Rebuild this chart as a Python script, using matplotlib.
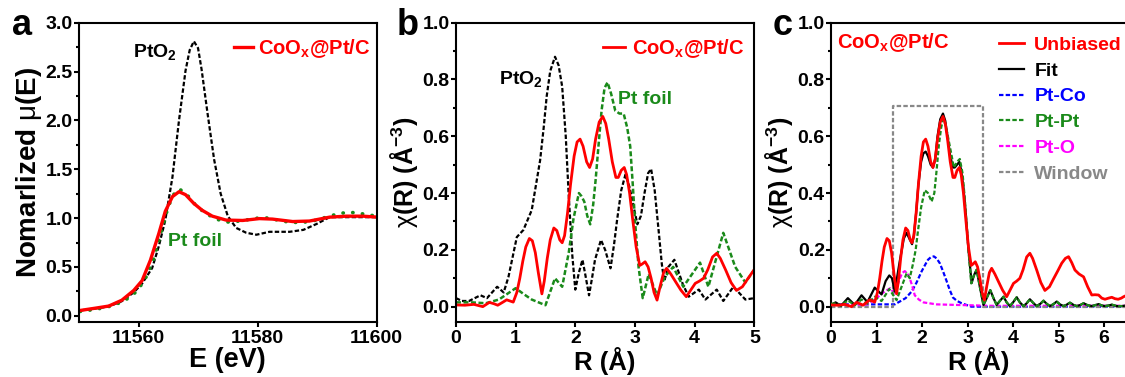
import numpy as np
import matplotlib
matplotlib.use('Agg')
from matplotlib import pyplot as plt
from matplotlib.ticker import MultipleLocator

plt.rcParams['font.family'] = ['Liberation Sans', 'DejaVu Sans']
plt.rcParams['font.weight'] = 'bold'
plt.rcParams['mathtext.fontset'] = 'custom'
plt.rcParams['mathtext.rm'] = 'Liberation Sans:weight=normal'
plt.rcParams['mathtext.it'] = 'Liberation Sans:italic'
plt.rcParams['mathtext.bf'] = 'Liberation Sans:bold'
plt.rcParams['axes.linewidth'] = 1.5
plt.rcParams['lines.solid_joinstyle'] = 'round'

# ---- panel a: XANES ----
E_cat = [11550.2, 11552.7, 11555.0, 11557.2, 11559.2, 11560.6, 11562.0, 11563.4, 11564.5,
         11565.7, 11566.8, 11567.9, 11569.3, 11570.7, 11572.4, 11574.7, 11577.5, 11580.3,
         11582.5, 11585.9, 11588.7, 11592.1, 11594.9, 11597.7, 11600.2]
mu_cat = [0.055, 0.078, 0.10, 0.16, 0.26, 0.36, 0.57, 0.84, 1.07,
          1.22, 1.27, 1.24, 1.15, 1.08, 1.02, 0.98, 0.976, 0.995,
          0.99, 0.965, 0.97, 1.01, 1.02, 1.02, 1.01]

E_pto2 = [11550.2, 11552.7, 11555.0, 11557.2, 11559.2, 11560.6, 11562.3, 11563.4, 11564.5,
          11565.7, 11566.8, 11567.9, 11568.6, 11569.3, 11570.0, 11570.6, 11571.6, 11572.7,
          11573.8, 11575.0, 11576.4, 11578.1, 11579.8, 11582.0, 11585.4, 11587.7, 11589.9,
          11592.1, 11594.4, 11597.7, 11600.2]
mu_pto2 = [0.055, 0.075, 0.095, 0.15, 0.24, 0.33, 0.49, 0.71, 0.98,
           1.42, 2.00, 2.51, 2.72, 2.81, 2.74, 2.52, 2.07, 1.60,
           1.25, 1.02, 0.90, 0.85, 0.83, 0.86, 0.86, 0.88, 0.94,
           1.01, 1.01, 1.01, 1.01]

E_foil = [11550.2, 11552.0, 11554.0, 11556.0, 11558.0, 11559.5, 11561.0, 11562.5, 11564.0,
          11565.0, 11566.0, 11566.8, 11568.0, 11569.5, 11571.0, 11573.0, 11575.0, 11577.0,
          11579.0, 11580.5, 11582.0, 11584.0, 11586.0, 11588.0, 11590.0, 11592.0, 11594.0,
          11595.5, 11597.0, 11599.0, 11600.0]
mu_foil = [0.045, 0.06, 0.08, 0.11, 0.17, 0.24, 0.36, 0.57, 0.90,
           1.12, 1.25, 1.30, 1.25, 1.14, 1.06, 0.99, 0.96, 0.97,
           0.99, 1.005, 1.0, 0.97, 0.955, 0.96, 0.98, 1.02, 1.05,
           1.06, 1.05, 1.03, 1.02]

# ---- panel b/c: FT-EXAFS ----
R_cat = [0.0, 0.15, 0.30, 0.45, 0.56, 0.64, 0.70, 0.78, 0.85, 0.96, 1.02, 1.07, 1.12, 1.17,
         1.23, 1.28, 1.33, 1.38, 1.44, 1.48, 1.53, 1.58, 1.64, 1.69, 1.74, 1.78, 1.82, 1.87,
         1.92, 1.98, 2.03, 2.08, 2.13, 2.19, 2.24, 2.29, 2.34, 2.40, 2.46, 2.51, 2.56, 2.62,
         2.68, 2.72, 2.77, 2.82, 2.86, 2.91, 2.96, 3.02, 3.08, 3.12, 3.17, 3.22, 3.27, 3.32,
         3.37, 3.42, 3.48, 3.53, 3.60, 3.68, 3.77, 3.86, 3.94, 4.01, 4.08, 4.15, 4.22, 4.30,
         4.37, 4.43, 4.52, 4.61, 4.70, 4.80, 4.89, 4.98, 5.07, 5.15, 5.22, 5.29, 5.36, 5.45,
         5.55, 5.64, 5.73, 5.80, 5.88, 5.95, 6.02, 6.10, 6.17, 6.24, 6.31, 6.38, 6.43, 6.5]
chi_cat = [0.006, 0.005, 0.008, 0.0, 0.015, 0.01, 0.005, 0.015, 0.024, 0.016, 0.05, 0.10, 0.16, 0.21,
           0.24, 0.232, 0.19, 0.12, 0.045, 0.09, 0.17, 0.235, 0.277, 0.268, 0.235, 0.225, 0.25, 0.33,
           0.43, 0.53, 0.58, 0.59, 0.565, 0.51, 0.49, 0.52, 0.59, 0.65, 0.67, 0.645, 0.59, 0.51,
           0.455, 0.455, 0.48, 0.49, 0.465, 0.40, 0.31, 0.21, 0.145, 0.15, 0.158, 0.14, 0.10, 0.05,
           0.023, 0.07, 0.12, 0.135, 0.115, 0.088, 0.058, 0.035, 0.06, 0.082, 0.09, 0.10, 0.13, 0.175,
           0.188, 0.17, 0.129, 0.085, 0.057, 0.07, 0.098, 0.125, 0.153, 0.17, 0.176, 0.155, 0.129, 0.115,
           0.105, 0.07, 0.041, 0.042, 0.041, 0.03, 0.026, 0.03, 0.033, 0.028, 0.026, 0.03, 0.035, 0.04]

R_pto2 = [0.0, 0.10, 0.22, 0.41, 0.52, 0.69, 0.80, 0.88, 1.02, 1.13, 1.27, 1.41, 1.47, 1.52,
          1.58, 1.66, 1.72, 1.78, 1.84, 1.89, 1.95, 2.00, 2.06, 2.12, 2.17, 2.23, 2.28, 2.33,
          2.43, 2.50, 2.59, 2.65, 2.70, 2.77, 2.84, 2.91, 2.98, 3.04, 3.10, 3.16, 3.22, 3.27,
          3.33, 3.40, 3.45, 3.49, 3.56, 3.66, 3.80, 3.90, 4.07, 4.18, 4.37, 4.48, 4.65, 4.85, 5.0]
chi_pto2 = [0.03, 0.02, 0.02, 0.04, 0.03, 0.07, 0.05, 0.105, 0.245, 0.27, 0.34, 0.515, 0.63, 0.74,
            0.83, 0.88, 0.85, 0.775, 0.60, 0.39, 0.18, 0.06, 0.12, 0.165, 0.11, 0.04, 0.10, 0.165,
            0.235, 0.20, 0.135, 0.22, 0.305, 0.41, 0.465, 0.42, 0.35, 0.29, 0.32, 0.40, 0.47, 0.485,
            0.41, 0.26, 0.15, 0.09, 0.14, 0.165, 0.08, 0.035, 0.06, 0.025, 0.06, 0.02, 0.07, 0.025, 0.03]

R_foil = [0.0, 0.27, 0.50, 0.72, 1.00, 1.13, 1.27, 1.50, 1.66, 1.78, 1.89, 1.97, 2.06, 2.10,
          2.15, 2.20, 2.25, 2.30, 2.34, 2.39, 2.44, 2.49, 2.54, 2.60, 2.67, 2.74, 2.81, 2.87,
          2.92, 2.96, 3.00, 3.06, 3.13, 3.23, 3.37, 3.50, 3.64, 3.81, 4.09, 4.23, 4.48, 4.68,
          4.85, 5.0]
chi_foil = [0.015, 0.015, 0.012, 0.025, 0.065, 0.045, 0.025, 0.005, 0.10, 0.07, 0.19, 0.31, 0.40, 0.39,
            0.37, 0.32, 0.29, 0.36, 0.445, 0.57, 0.69, 0.77, 0.79, 0.75, 0.69, 0.68, 0.68, 0.63,
            0.565, 0.44, 0.305, 0.14, 0.03, 0.115, 0.04, 0.105, 0.14, 0.07, 0.155, 0.07, 0.26, 0.14,
            0.085, 0.13]

# ---- panel c: fit ----
R_fit = [0.0, 0.10, 0.22, 0.37, 0.52, 0.67, 0.80, 0.96, 1.11, 1.20, 1.28, 1.34, 1.40, 1.51,
         1.60, 1.66, 1.72, 1.78, 1.82, 1.87, 1.92, 1.98, 2.03, 2.08, 2.13, 2.19, 2.24, 2.29,
         2.34, 2.40, 2.46, 2.51, 2.56, 2.62, 2.68, 2.72, 2.77, 2.82, 2.86, 2.91, 2.96, 3.02,
         3.09, 3.14, 3.20, 3.27, 3.35, 3.42, 3.50, 3.57, 3.64, 3.71, 3.79, 3.86, 3.93, 4.00,
         4.08, 4.15, 4.23, 4.30, 4.37, 4.45, 4.52, 4.60, 4.67, 4.74, 4.81, 4.89, 4.96, 5.03,
         5.11, 5.18, 5.25, 5.33, 5.40, 5.48, 5.55, 5.64, 5.73, 5.80, 5.88, 5.95, 6.02, 6.10,
         6.17, 6.28, 6.39, 6.5]
chi_fit = [0.006, 0.015, 0.003, 0.03, 0.006, 0.04, 0.016, 0.067, 0.043, 0.09, 0.11, 0.10, 0.053, 0.16,
           0.24, 0.26, 0.24, 0.22, 0.25, 0.33, 0.43, 0.51, 0.54, 0.546, 0.53, 0.50, 0.49, 0.52,
           0.60, 0.66, 0.68, 0.655, 0.60, 0.53, 0.49, 0.49, 0.50, 0.51, 0.48, 0.42, 0.33, 0.20,
           0.083, 0.11, 0.13, 0.07, 0.006, 0.03, 0.058, 0.03, 0.006, 0.02, 0.035, 0.015, 0.002, 0.015,
           0.033, 0.015, 0.002, 0.012, 0.026, 0.012, 0.002, 0.01, 0.021, 0.01, 0.002, 0.009, 0.018, 0.008,
           0.002, 0.007, 0.014, 0.006, 0.002, 0.006, 0.012, 0.005, 0.002, 0.005, 0.009, 0.004, 0.002, 0.004,
           0.007, 0.002, 0.002, 0.004]

R_ptpt = [0.0, 0.10, 0.22, 0.37, 0.52, 0.67, 0.80, 0.96, 1.11, 1.28, 1.44, 1.55, 1.66, 1.73,
          1.80, 1.86, 1.91, 1.98, 2.06, 2.13, 2.21, 2.27, 2.32, 2.37, 2.42, 2.46, 2.52, 2.58,
          2.64, 2.70, 2.77, 2.83, 2.89, 2.94, 3.02, 3.08, 3.14, 3.20, 3.27, 3.35, 3.42, 3.50,
          3.57, 3.64, 3.71, 3.79, 3.86, 3.93, 4.00, 4.08, 4.15, 4.23, 4.30, 4.37, 4.45, 4.52,
          4.60, 4.67, 4.74, 4.81, 4.89, 4.96, 5.03, 5.11, 5.18, 5.25, 5.33, 5.40, 5.48, 5.55,
          5.64, 5.73, 5.80, 5.88, 5.95, 6.02, 6.10, 6.17, 6.28, 6.39, 6.5]
chi_ptpt = [0.01, 0.012, 0.004, 0.022, 0.005, 0.025, 0.01, 0.035, 0.02, 0.062, 0.023, 0.07, 0.117, 0.10,
            0.15, 0.20, 0.266, 0.35, 0.41, 0.40, 0.37, 0.40, 0.48, 0.57, 0.63, 0.66, 0.64, 0.59,
            0.54, 0.49, 0.51, 0.52, 0.47, 0.38, 0.20, 0.082, 0.11, 0.13, 0.07, 0.006, 0.03, 0.058,
            0.03, 0.006, 0.02, 0.035, 0.015, 0.002, 0.015, 0.033, 0.015, 0.002, 0.012, 0.026, 0.012, 0.002,
            0.01, 0.021, 0.01, 0.002, 0.009, 0.018, 0.008, 0.002, 0.007, 0.014, 0.006, 0.002, 0.006, 0.012,
            0.005, 0.002, 0.005, 0.009, 0.004, 0.002, 0.004, 0.007, 0.002, 0.002, 0.004]

R_ptco = [0.0, 0.5, 1.0, 1.40, 1.51, 1.64, 1.77, 1.88, 1.99, 2.07, 2.13, 2.20, 2.26, 2.32,
          2.39, 2.46, 2.54, 2.61, 2.68, 2.77, 2.87, 3.08, 3.5, 4.5, 5.5, 6.5]
chi_ptco = [0.008, 0.008, 0.008, 0.008, 0.018, 0.03, 0.053, 0.085, 0.124, 0.148, 0.165, 0.175, 0.177, 0.17,
            0.153, 0.125, 0.09, 0.058, 0.032, 0.02, 0.012, 0.0, 0.0, 0.0, 0.0, 0.0]

R_pto = [0.0, 0.4, 0.8, 1.0, 1.15, 1.30, 1.39, 1.45, 1.50, 1.56, 1.62, 1.68, 1.73, 1.79,
         1.84, 1.93, 2.03, 2.32, 2.76, 3.5, 4.5, 5.5, 6.5]
chi_pto = [0.006, 0.006, 0.008, 0.03, 0.05, 0.065, 0.047, 0.07, 0.094, 0.118, 0.125, 0.118, 0.10, 0.07,
           0.04, 0.025, 0.015, 0.008, 0.006, 0.003, 0.003, 0.003, 0.003]

R_win = [0.0, 1.36, 1.36, 3.34, 3.34, 6.5]
win = [0.0, 0.0, 0.705, 0.705, 0.0, 0.0]

red = '#ff0000'
green = '#1a8a1a'
dash = (0, (2, 1))

fig = plt.figure(figsize=(11.25, 3.77), dpi=100)
ax_a = fig.add_axes([0.0702, 0.1467, 0.2646, 0.7931])
ax_b = fig.add_axes([0.4053, 0.1467, 0.2652, 0.7931])
ax_c = fig.add_axes([0.7387, 0.1467, 0.2629, 0.7931])

def style(ax):
	ax.tick_params(which='both', direction='out', width=1.5, labelsize=14, pad=1)
	ax.tick_params(which='major', length=3.5)
	ax.tick_params(which='minor', length=2)
	ax.tick_params(axis='x', pad=2.5)
	for lab in ax.get_xticklabels() + ax.get_yticklabels():
		lab.set_fontweight('bold')

# a
ax_a.plot(E_pto2, mu_pto2, color='k', lw=1.6, linestyle=dash)
ax_a.plot(E_foil, mu_foil, color=green, lw=2.6, linestyle=(0, (0.1, 2.6)), dash_capstyle='round')
ax_a.plot(E_cat, mu_cat, color=red, lw=2.4, label=r'CoO$_{\mathbf{x}}$@Pt/C')
ax_a.set_xlim(11550, 11600)
ax_a.set_ylim(-0.06, 3.0)
ax_a.set_xticks([11560, 11580, 11600])
ax_a.yaxis.set_major_locator(MultipleLocator(0.5))
ax_a.yaxis.set_minor_locator(MultipleLocator(0.25))
ax_a.set_xlabel('E (eV)', fontsize=19.5, fontweight='bold', labelpad=0)
ax_a.set_ylabel(r'Nomarlized $\mathrm{\mu}$(E)', fontsize=20, fontweight='bold', labelpad=1)
ax_a.text(11559.1, 2.70, r'PtO$_{\mathbf{2}}$', fontsize=14, color='k', va='center')
ax_a.text(11565.0, 0.757, 'Pt foil', fontsize=14, color=green, va='center')
ax_a.legend(loc='upper left', bbox_to_anchor=(0.473, 1.0), frameon=False, fontsize=14.5,
            handlelength=0.95, handletextpad=0.25, labelcolor='linecolor', borderaxespad=0.3)
style(ax_a)

# b
ax_b.plot(R_pto2, chi_pto2, color='k', lw=1.6, linestyle=dash)
ax_b.plot(R_foil, chi_foil, color=green, lw=1.8, linestyle=dash)
ax_b.plot(R_cat, chi_cat, color=red, lw=2.0, label=r'CoO$_{\mathbf{x}}$@Pt/C')
ax_b.set_xlim(0, 5)
ax_b.set_ylim(-0.053, 1.0)
ax_b.xaxis.set_major_locator(MultipleLocator(1))
ax_b.yaxis.set_major_locator(MultipleLocator(0.2))
ax_b.yaxis.set_minor_locator(MultipleLocator(0.1))
ax_b.set_xlabel('R (Å)', fontsize=18.5, fontweight='bold', labelpad=0)
ax_b.set_ylabel(r'$\mathrm{\chi}$(R) (Å$^{\mathbf{-3}}$)', fontsize=18, fontweight='bold', labelpad=2)
ax_b.text(0.72, 0.80, r'PtO$_{\mathbf{2}}$', fontsize=14, color='k', va='center')
ax_b.text(2.71, 0.73, 'Pt foil', fontsize=14, color=green, va='center')
ax_b.legend(loc='upper left', bbox_to_anchor=(0.446, 1.0), frameon=False, fontsize=14.5,
            handlelength=1.1, handletextpad=0.35, labelcolor='linecolor', borderaxespad=0.3)
style(ax_b)

# c
ax_c.plot(R_cat, chi_cat, color=red, lw=2.0, label='Unbiased', zorder=5)
ax_c.plot(R_fit, chi_fit, color='k', lw=1.6, label='Fit', zorder=4)
ax_c.plot(R_ptco, chi_ptco, color='#0000ff', lw=1.6, linestyle=dash, label='Pt-Co')
ax_c.plot(R_ptpt, chi_ptpt, color=green, lw=1.6, linestyle=dash, label='Pt-Pt', zorder=4.5)
ax_c.plot(R_pto, chi_pto, color='#ff00ff', lw=1.6, linestyle=dash, label='Pt-O')
ax_c.plot(R_win, win, color='#888888', lw=1.6, linestyle=dash, label='Window')
ax_c.set_xlim(0, 6.5)
ax_c.set_ylim(-0.053, 1.0)
ax_c.xaxis.set_major_locator(MultipleLocator(1))
ax_c.yaxis.set_major_locator(MultipleLocator(0.2))
ax_c.yaxis.set_minor_locator(MultipleLocator(0.1))
ax_c.set_xlabel('R (Å)', fontsize=18.5, fontweight='bold', labelpad=0)
ax_c.set_ylabel(r'$\mathrm{\chi}$(R) (Å$^{\mathbf{-3}}$)', fontsize=18, fontweight='bold', labelpad=2)
ax_c.text(0.02, 0.935, r'CoO$_{\mathbf{x}}$@Pt/C', transform=ax_c.transAxes, fontsize=14.5,
          color=red, va='center')
ax_c.legend(loc='upper left', bbox_to_anchor=(0.523, 1.0), frameon=False, fontsize=14,
            handlelength=1.25, handletextpad=0.55, labelspacing=0.42, labelcolor='linecolor',
            borderaxespad=0.3)
style(ax_c)

fig.text(0.011, 0.907, 'a', fontsize=26, fontweight='bold')
fig.text(0.353, 0.907, 'b', fontsize=26, fontweight='bold')
fig.text(0.687, 0.907, 'c', fontsize=26, fontweight='bold')

fig.savefig('out.png', dpi=100)
